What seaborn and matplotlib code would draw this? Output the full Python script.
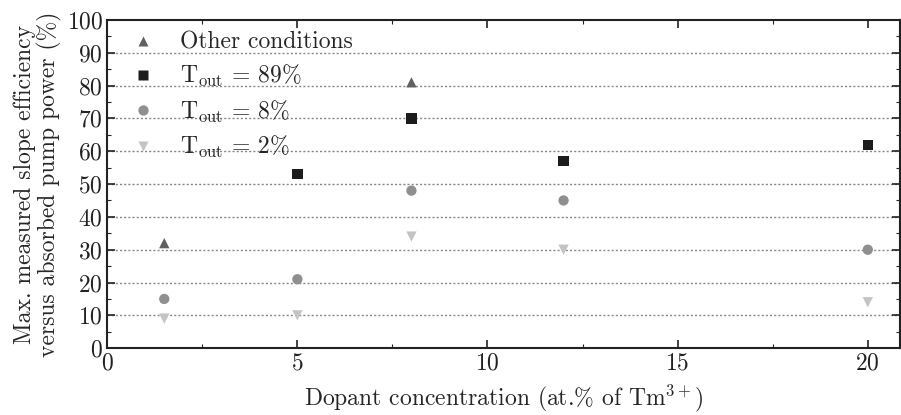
import numpy as np
import pandas as pd
import matplotlib
matplotlib.use("Agg")
import matplotlib.pyplot as plt
import seaborn as sns
from matplotlib.ticker import MultipleLocator

# Data
series_names = ["Other conditions", r"T$_{\rm out}$ = 89%", r"T$_{\rm out}$ = 8%", r"T$_{\rm out}$ = 2%"]
other_x = [1.5, 8]
other_y = [32, 81]
t89_x = [5, 8, 12, 20]
t89_y = [53, 70, 57, 62]
t8_x = [1.5, 5, 8, 12, 20]
t8_y = [15, 21, 48, 45, 30]
t2_x = [1.5, 5, 8, 12, 20]
t2_y = [9, 10, 34, 30, 14]

frames = []
for name, xs, ys in zip(series_names, [other_x, t89_x, t8_x, t2_x], [other_y, t89_y, t8_y, t2_y]):
    frames.append(pd.DataFrame({"x": xs, "y": ys, "series": name}))
df = pd.concat(frames, ignore_index=True)

sns.set_style("ticks")
plt.rcParams["font.family"] = ["cmr10", "DejaVu Serif"]
plt.rcParams["mathtext.fontset"] = "cm"
plt.rcParams["axes.formatter.use_mathtext"] = True

palette = dict(zip(series_names, ["#606060", "#1c1c1c", "#8f8f8f", "#c4c4c4"]))
markers = dict(zip(series_names, ["^", "s", "o", "v"]))

fig = plt.figure(figsize=(9.01, 4.15), dpi=100)
ax = fig.add_axes([0.119, 0.161, 0.88, 0.791])

for y in range(10, 100, 10):
    ax.axhline(y, color="#888888", linestyle=(0, (1.5, 1.5)), linewidth=1.0, zorder=0)

sns.scatterplot(data=df, x="x", y="y", hue="series", style="series",
                palette=palette, markers=markers, s=55, edgecolor="none",
                hue_order=series_names, style_order=series_names, ax=ax, zorder=3)

ax.set_xlim(0, 20.85)
ax.set_ylim(0, 100)
ax.xaxis.set_major_locator(MultipleLocator(5))
ax.xaxis.set_minor_locator(MultipleLocator(2.5))
ax.yaxis.set_major_locator(MultipleLocator(10))
ax.yaxis.set_minor_locator(MultipleLocator(5))
ax.tick_params(which="both", direction="in", top=True, right=True, labelsize=17, colors="#222222")
ax.tick_params(which="major", length=6, width=1.2, pad=3)
ax.tick_params(which="minor", length=3, width=0.8)
for sp in ax.spines.values():
    sp.set_linewidth(1.5)
    sp.set_color("#222222")

ax.set_xlabel(r"Dopant concentration (at.% of Tm$^{3+}$)", fontsize=17, labelpad=6)
ax.set_ylabel("Max. measured slope efficiency\nversus absorbed pump power (%)", fontsize=17,
              labelpad=3, linespacing=1.1)

leg = ax.legend(loc="upper left", frameon=False, fontsize=17, handletextpad=0.6,
                labelspacing=0.4, borderaxespad=0.2, markerscale=1.0, borderpad=0.3)

fig.savefig("out.png", dpi=100)
